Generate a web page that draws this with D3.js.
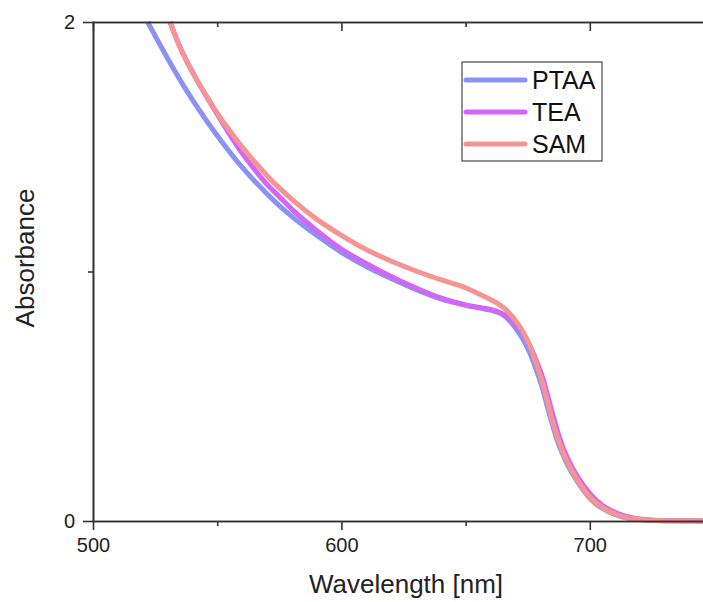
<!DOCTYPE html>
<html>
<head>
  <meta charset="utf-8">
  <title>Absorbance</title>
  <style>
    body { margin: 0; background: #fff; }
    svg { display: block; font-family: "Liberation Sans", Arial, sans-serif; }
    .axis path, .axis line { stroke: #333; stroke-width: 1.6; }
    .axis text { font-size: 20px; fill: #222; }
  </style>
</head>
<body>
  <script src="https://cdn.jsdelivr.net/npm/d3@7/dist/d3.min.js"></script>
  <script>
    // data
    var ptaaWl  = [522, 530, 538, 546, 553, 560, 570, 575, 580, 590, 600, 610, 620, 630, 640, 650, 655, 660, 664, 667, 670, 673, 676, 679, 681, 683, 685, 687, 689, 691, 693, 696, 699, 703, 707, 712, 716, 722, 732, 750];
    var ptaaAbs = [2.00, 1.855, 1.72, 1.60, 1.505, 1.418, 1.312, 1.264, 1.221, 1.145, 1.077, 1.02, 0.972, 0.928, 0.89, 0.865, 0.855, 0.845, 0.832, 0.81, 0.775, 0.73, 0.67, 0.59, 0.53, 0.455, 0.385, 0.32, 0.27, 0.225, 0.19, 0.143, 0.103, 0.064, 0.04, 0.02, 0.011, 0.004, 0.001, 0];

    var teaWl  = [531, 535, 540, 545, 550, 555, 560, 565, 570, 575, 580, 590, 600, 610, 620, 630, 640, 650, 655, 660, 664, 667, 670, 673, 676, 679, 681, 683, 685, 687, 689, 691, 693, 695, 698, 701, 705, 709, 714, 718, 724, 734, 750];
    var teaAbs = [2.00, 1.90, 1.80, 1.712, 1.63, 1.55, 1.475, 1.41, 1.35, 1.30, 1.25, 1.165, 1.09, 1.032, 0.98, 0.934, 0.894, 0.866, 0.857, 0.848, 0.835, 0.818, 0.79, 0.755, 0.70, 0.63, 0.575, 0.505, 0.43, 0.36, 0.30, 0.253, 0.213, 0.18, 0.135, 0.099, 0.063, 0.04, 0.02, 0.011, 0.004, 0.001, 0];

    var samWl  = [531, 535, 540, 545, 550, 555, 560, 570, 575, 580, 590, 600, 610, 620, 630, 640, 650, 655, 660, 664, 667, 670, 673, 676, 679, 681, 683, 685, 687, 689, 691, 693, 696, 699, 703, 707, 712, 716, 722, 732, 750];
    var samAbs = [2.00, 1.90, 1.80, 1.715, 1.635, 1.565, 1.50, 1.385, 1.335, 1.29, 1.21, 1.145, 1.088, 1.042, 1.002, 0.967, 0.935, 0.912, 0.888, 0.865, 0.84, 0.805, 0.76, 0.70, 0.615, 0.552, 0.477, 0.40, 0.335, 0.28, 0.235, 0.197, 0.15, 0.108, 0.068, 0.043, 0.022, 0.012, 0.005, 0.001, 0];

    var seriesNames  = ["PTAA", "TEA", "SAM"];
    var seriesColors = ["#8a93f5", "#d466f7", "#f69494"];
    var xMajorTicks = [500, 600, 700];
    var xMinorTicks = [550, 650, 750];
    var yMajorTicks = [0, 2];
    var yMinorTicks = [1];

    var series = [
      { name: seriesNames[0], color: seriesColors[0], values: ptaaWl.map(function(w, i) { return { x: w, y: ptaaAbs[i] }; }) },
      { name: seriesNames[1], color: seriesColors[1], values: teaWl.map(function(w, i) { return { x: w, y: teaAbs[i] }; }) },
      { name: seriesNames[2], color: seriesColors[2], values: samWl.map(function(w, i) { return { x: w, y: samAbs[i] }; }) }
    ];

    var width = 703, height = 602;
    var margin = {top: 22, left: 93, bottom: 81};
    var plotRight = 714;   // right frame falls just outside the picture

    var x = d3.scaleLinear().domain([500, 750]).range([margin.left, plotRight]);
    var y = d3.scaleLinear().domain([0, 2]).range([height - margin.bottom, margin.top]);

    var svg = d3.select("body").append("svg")
      .attr("width", width)
      .attr("height", height);

    svg.append("defs").append("clipPath").attr("id", "plot-clip")
      .append("rect")
      .attr("x", margin.left).attr("y", margin.top - 3)
      .attr("width", plotRight - margin.left).attr("height", y(0) - margin.top + 6);

    // curves
    var line = d3.line()
      .x(function(d) { return x(d.x); })
      .y(function(d) { return y(d.y); })
      .curve(d3.curveMonotoneX);

    svg.append("g").attr("clip-path", "url(#plot-clip)")
      .selectAll("path")
      .data(series)
      .enter().append("path")
      .attr("d", function(d) { return line(d.values); })
      .attr("fill", "none")
      .attr("stroke", function(d) { return d.color; })
      .attr("stroke-width", 5)
      .attr("stroke-linejoin", "round");

    // bottom axis
    svg.append("g").attr("class", "axis")
      .attr("transform", "translate(0," + y(0) + ")")
      .call(d3.axisBottom(x).tickValues(xMajorTicks).tickSize(9).tickSizeOuter(0).tickPadding(8));
    svg.append("g").attr("class", "axis")
      .attr("transform", "translate(0," + y(0) + ")")
      .call(d3.axisBottom(x).tickValues(xMinorTicks).tickSize(5).tickFormat("").tickSizeOuter(0));

    // top axis, ticks inward
    svg.append("g").attr("class", "axis")
      .attr("transform", "translate(0," + margin.top + ")")
      .call(d3.axisBottom(x).tickValues(xMajorTicks).tickSize(9).tickFormat("").tickSizeOuter(0));
    svg.append("g").attr("class", "axis")
      .attr("transform", "translate(0," + margin.top + ")")
      .call(d3.axisBottom(x).tickValues(xMinorTicks).tickSize(5).tickFormat("").tickSizeOuter(0));

    // left axis
    svg.append("g").attr("class", "axis")
      .attr("transform", "translate(" + margin.left + ",0)")
      .call(d3.axisLeft(y).tickValues(yMajorTicks).tickSize(10).tickSizeOuter(0).tickPadding(8).tickFormat(d3.format("d")));
    svg.append("g").attr("class", "axis")
      .attr("transform", "translate(" + margin.left + ",0)")
      .call(d3.axisLeft(y).tickValues(yMinorTicks).tickSize(5).tickFormat("").tickSizeOuter(0));

    svg.selectAll(".axis .domain").attr("stroke-linecap", "square");

    // axis titles
    svg.append("text")
      .attr("x", 406)
      .attr("y", 593)
      .attr("text-anchor", "middle")
      .style("font-size", "26px")
      .style("fill", "#222")
      .text("Wavelength [nm]");

    svg.append("text")
      .attr("transform", "translate(34,258) rotate(-90)")
      .attr("text-anchor", "middle")
      .style("font-size", "26px")
      .style("fill", "#222")
      .text("Absorbance");

    // legend
    var legend = svg.append("g").attr("transform", "translate(462,62)");
    legend.append("rect")
      .attr("width", 140).attr("height", 99)
      .attr("fill", "#fff").attr("stroke", "#555").attr("stroke-width", 1.3);
    var item = legend.selectAll(".item")
      .data(series)
      .enter().append("g")
      .attr("transform", function(d, i) { return "translate(0," + (18 + i * 32) + ")"; });
    item.append("line")
      .attr("x1", 4).attr("x2", 63)
      .attr("stroke", function(d) { return d.color; })
      .attr("stroke-width", 5)
      .attr("stroke-linecap", "round");
    item.append("text")
      .attr("x", 70).attr("y", 9)
      .style("font-size", "25px")
      .style("fill", "#111")
      .text(function(d) { return d.name; });
  </script>
</body>
</html>
